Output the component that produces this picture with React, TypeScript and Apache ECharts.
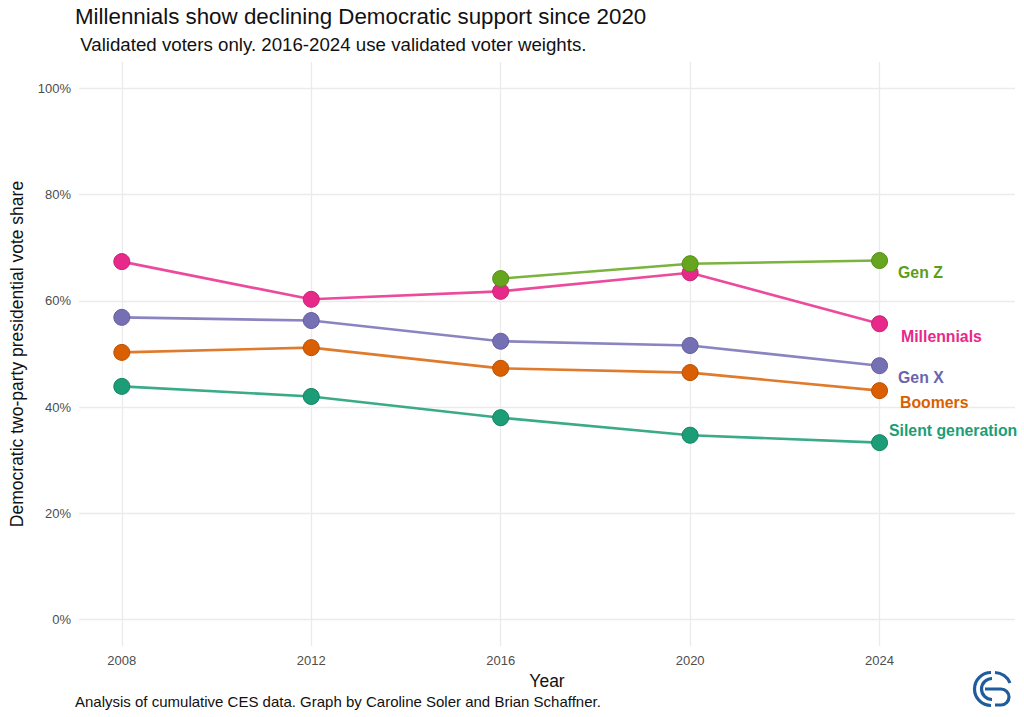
import React, { useEffect, useRef } from "react";
import * as echarts from "echarts";

const years = [2008, 2012, 2016, 2020, 2024];
const yTicks = [0, 20, 40, 60, 80, 100];

const silentGen = [43.9, 42.0, 38.0, 34.7, 33.3];
const boomers = [50.3, 51.2, 47.3, 46.5, 43.1];
const genX = [56.9, 56.3, 52.4, 51.6, 47.8];
const millennials = [67.4, 60.3, 61.8, 65.3, 55.7];
const genZYears = [2016, 2020, 2024];
const genZ = [64.2, 67.0, 67.6];

const FONT = "'Liberation Sans', Arial, Helvetica, sans-serif";

const LOGO_D =
  "M 18 1.5 A 16.5 16.5 0 0 0 18 34.5 " +
  "M 19 7.5 A 10.5 10.5 0 0 0 19 28.5 " +
  "M 22 1.5 A 16.5 16.5 0 0 1 37 12 " +
  "M 12 18 L 28 18 A 8 8 0 0 1 28 34 L 22 34";

echarts.graphic.registerShape("logo", echarts.graphic.extendPath(LOGO_D, {}));

type SeriesDef = {
  name: string;
  xs: number[];
  ys: number[];
  point: string;
  border: string;
  line: string;
  labelColor: string;
  offset: [number, number];
};

const seriesDefs: SeriesDef[] = [
  { name: "Silent generation", xs: years, ys: silentGen, point: "#1B9E77", border: "#15805f", line: "#3aab88", labelColor: "#1B9E77", offset: [1, -12] },
  { name: "Boomers", xs: years, ys: boomers, point: "#D95F02", border: "#b84f00", line: "#e07a2c", labelColor: "#D95F02", offset: [12, 12] },
  { name: "Gen X", xs: years, ys: genX, point: "#7570B3", border: "#625d9e", line: "#8a85c0", labelColor: "#6a64ad", offset: [10, 12] },
  { name: "Millennials", xs: years, ys: millennials, point: "#E7298A", border: "#c81f74", line: "#ec4a9c", labelColor: "#E7298A", offset: [13, 13] },
  { name: "Gen Z", xs: genZYears, ys: genZ, point: "#66A61E", border: "#548a17", line: "#7ab33e", labelColor: "#5a9e1a", offset: [10, 12] },
];

export default function App() {
  const ref = useRef<HTMLDivElement>(null);

  useEffect(() => {
    if (!ref.current) return;
    const chart = echarts.init(ref.current, undefined, { renderer: "svg" });

    const gridLines = [
      ...years.map((y) => ({ xAxis: y })),
      ...yTicks.map((v) => ({ yAxis: v })),
    ];

    const dataSeries = seriesDefs.map((s, si) => ({
      type: "line",
      name: s.name,
      z: 3 + si,
      data: s.xs.map((x, i) => {
        const item: any = { value: [x, s.ys[i]] };
        if (i === s.xs.length - 1) {
          item.label = {
            show: true,
            position: "right",
            distance: 0,
            offset: s.offset,
            formatter: s.name,
            color: s.labelColor,
            fontSize: 15.8,
            fontWeight: "bold",
            fontFamily: FONT,
          };
        }
        return item;
      }),
      symbol: "circle",
      symbolSize: 16,
      showSymbol: true,
      itemStyle: { color: s.point, borderColor: s.border, borderWidth: 1 },
      lineStyle: { color: s.line, width: 2.6 },
      emphasis: { disabled: true },
      label: { show: false },
    }));

    chart.setOption({
      animation: false,
      backgroundColor: "#ffffff",
      title: [
        {
          text: "Millennials show declining Democratic support since 2020",
          left: 75,
          top: 3,
          padding: 0,
          textStyle: { fontSize: 22.35, fontWeight: "normal", color: "#111", fontFamily: FONT, lineHeight: 26 },
        },
        {
          text: " Validated voters only. 2016-2024 use validated voter weights.",
          left: 75,
          top: 33,
          padding: 0,
          textStyle: { fontSize: 18.7, fontWeight: "normal", color: "#111", fontFamily: FONT, lineHeight: 22 },
        },
        {
          text: "Analysis of cumulative CES data. Graph by Caroline Soler and Brian Schaffner.",
          left: 75,
          top: 692,
          padding: 0,
          textStyle: { fontSize: 15, fontWeight: "normal", color: "#111", fontFamily: FONT, lineHeight: 18 },
        },
      ],
      grid: { left: 75, right: 9, top: 62, bottom: 71, containLabel: false },
      xAxis: {
        type: "value",
        min: 2007.096,
        max: 2026.86,
        name: "Year",
        nameLocation: "middle",
        nameGap: 18,
        nameTextStyle: { fontSize: 17.5, color: "#111", fontFamily: FONT },
        axisLine: { show: false },
        axisTick: { show: false },
        splitLine: { show: false },
        axisLabel: {
          customValues: years,
          formatter: (v: number) => String(v),
          fontSize: 13,
          color: "#4d4d4d",
          fontFamily: FONT,
          margin: 8,
        },
      },
      yAxis: {
        type: "value",
        min: -5,
        max: 105,
        name: "Democratic two-party presidential vote share",
        nameLocation: "middle",
        nameGap: 53,
        nameTextStyle: { fontSize: 17.5, color: "#111", fontFamily: FONT },
        axisLine: { show: false },
        axisTick: { show: false },
        splitLine: { show: false },
        axisLabel: {
          customValues: yTicks,
          formatter: (v: number) => v + "%",
          fontSize: 13,
          color: "#4d4d4d",
          fontFamily: FONT,
          margin: 8,
        },
      },
      series: [
        {
          type: "line",
          name: "grid",
          z: 1,
          data: [],
          silent: true,
          markLine: {
            silent: true,
            z: 1,
            symbol: ["none", "none"],
            label: { show: false },
            emphasis: { disabled: true },
            lineStyle: { color: "#ebebeb", width: 1.3, type: "solid" },
            data: gridLines,
          },
        },
        ...dataSeries,
      ],
      graphic: [
        {
          type: "logo",
          x: 973,
          y: 671,
          scaleX: 1,
          scaleY: 1,
          silent: true,
          style: { fill: "none", stroke: "#1f5c9e", lineWidth: 3.2 },
        },
      ],
    });

    return () => chart.dispose();
  }, []);

  return <div ref={ref} style={{ width: 1024, height: 717, position: "absolute", left: 0, top: 0 }} />;
}
